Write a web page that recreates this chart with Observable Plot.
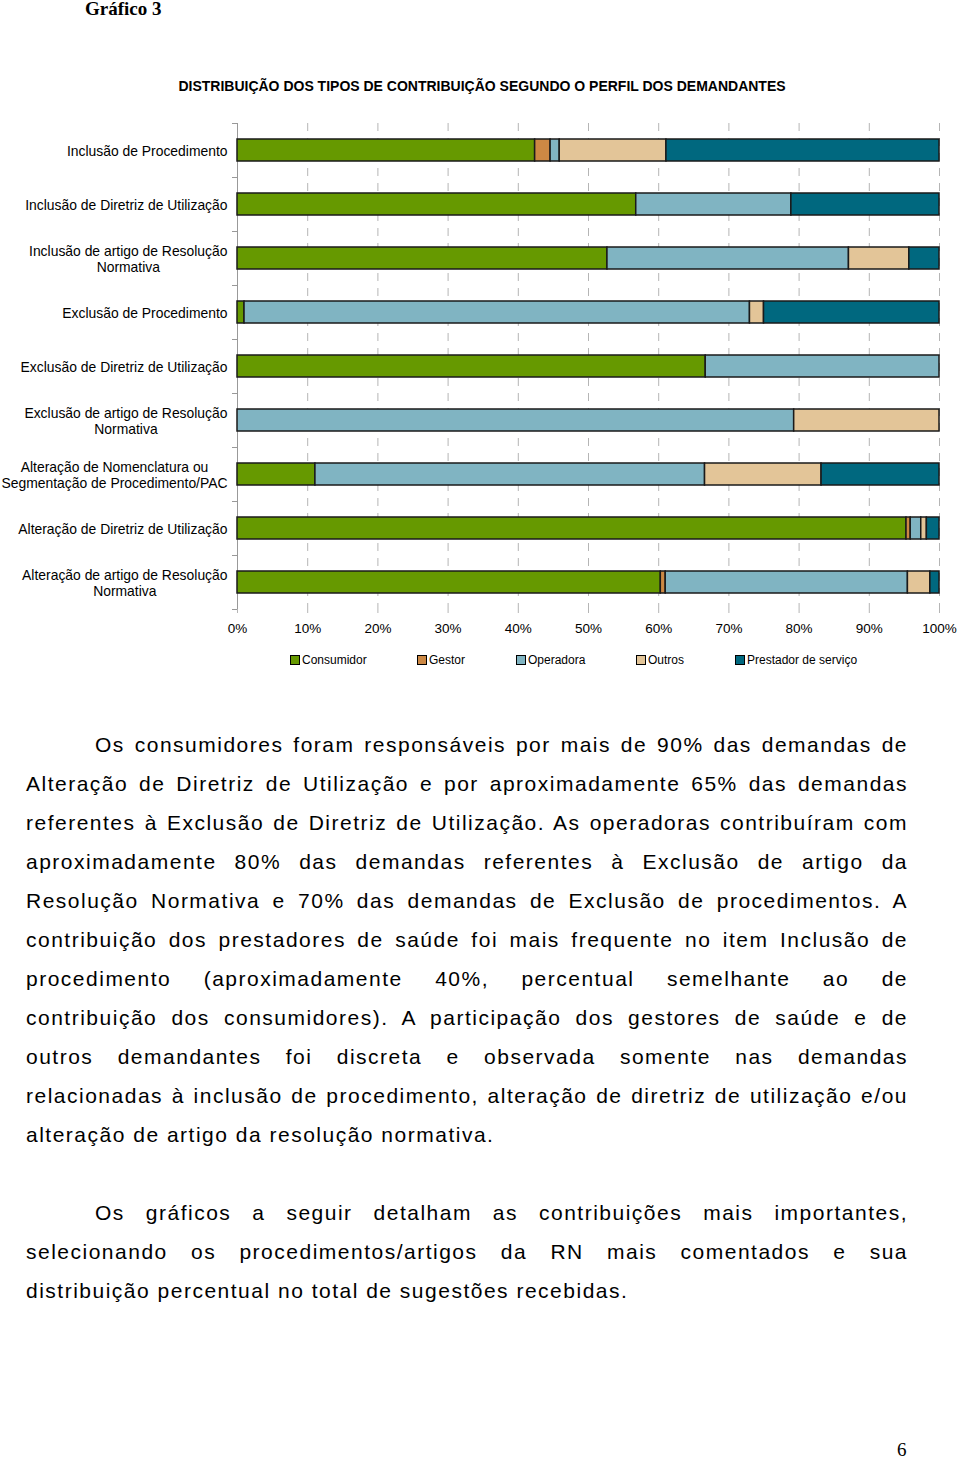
<!DOCTYPE html>
<html>
<head>
<meta charset="utf-8">
<script src="https://cdn.jsdelivr.net/npm/d3@7"></script>
<script src="https://cdn.jsdelivr.net/npm/@observablehq/plot@0.6"></script>
<style>
  body { margin:0; width:960px; height:1461px; position:relative; background:#fff; font-family:"Liberation Sans", Arial, sans-serif; color:#000; overflow:hidden; }
  .abs { position:absolute; }
  #pagetitle { left:85px; top:0px; line-height:17px; font-family:"Liberation Serif","Times New Roman",serif; font-weight:bold; font-size:19px; }
  #charttitle { left:0; width:964px; top:78px; text-align:center; font-weight:bold; font-size:14px; }
  #chart { left:0; top:100px; }
  .leg { position:absolute; top:653px; font-size:12px; line-height:14px; white-space:nowrap; }
  .leg span.sw { display:inline-block; width:8px; height:8px; border:1px solid #000; margin-right:2px; vertical-align:-1px; }
  .line { position:absolute; left:26px; width:882px; font-size:21px; letter-spacing:1.5px; text-align:justify; text-align-last:justify; white-space:nowrap; line-height:24px; }
  .line.last { text-align-last:left; text-align:left; }
  .line.indent { left:95px; width:813px; }
  #pagenum { left:897px; top:1439px; font-family:"Liberation Serif","Times New Roman",serif; font-size:19px; }
</style>
</head>
<body>
<div id="pagetitle" class="abs">Gráfico 3</div>
<div id="charttitle" class="abs">DISTRIBUIÇÃO DOS TIPOS DE CONTRIBUIÇÃO SEGUNDO O PERFIL DOS DEMANDANTES</div>
<div id="chart" class="abs"></div>
<div id="legend"></div>
<div id="text"></div>
<div id="pagenum" class="abs">6</div>
<script>
// ---- Data ----
const categories = [
  "Inclusão de Procedimento",
  "Inclusão de Diretriz de Utilização",
  "Inclusão de artigo de Resolução\nNormativa",
  "Exclusão de Procedimento",
  "Exclusão de Diretriz de Utilização",
  "Exclusão de artigo de Resolução\nNormativa",
  "Alteração de Nomenclatura ou\nSegmentação de Procedimento/PAC",
  "Alteração de Diretriz de Utilização",
  "Alteração de artigo de Resolução\nNormativa"
];
const seriesNames = ["Consumidor", "Gestor", "Operadora", "Outros", "Prestador de serviço"];
const consumidor = [42.4, 56.8, 52.7, 1.0, 66.7, 0, 11.1, 95.3, 60.3];
const gestor     = [2.2, 0, 0, 0, 0, 0, 0, 0.6, 0.7];
const operadora  = [1.3, 22.1, 34.4, 72.0, 33.3, 79.3, 55.5, 1.5, 34.5];
const outros     = [15.2, 0, 8.6, 2.0, 0, 20.7, 16.6, 0.8, 3.2];
const prestador  = [38.9, 21.1, 4.3, 25.0, 0, 0, 16.8, 1.8, 1.3];
const seriesColors = ["#669900", "#CC8844", "#80B4C2", "#E3C598", "#00687F"];
const xTicks = [0, 10, 20, 30, 40, 50, 60, 70, 80, 90, 100];

const seriesValues = [consumidor, gestor, operadora, outros, prestador];
const rows = [];
categories.forEach((c, i) => {
  seriesNames.forEach((s, j) => {
    const v = seriesValues[j][i];
    if (v > 0) rows.push({category: c, series: s, value: v});
  });
});

const labelFont = 13.9;
const cv = document.createElement("canvas").getContext("2d");
cv.font = labelFont + "px 'Liberation Sans'";
function labelWidth(t) { return Math.max(...t.split("\n").map(l => cv.measureText(l).width)); }

const labelMarks = categories.map(c =>
  Plot.text([c], {
    y: d => d, text: d => d, frameAnchor: "left", textAnchor: "middle",
    dx: -(10 + labelWidth(c) / 2), lineHeight: 1.2, fontSize: labelFont, fill: "#000"
  })
);

const chart = Plot.plot({
  width: 960,
  height: 550,
  marginLeft: 237,
  marginRight: 21,
  marginTop: 23,
  marginBottom: 41,
  style: {fontFamily: "'Liberation Sans', Arial, sans-serif", fontSize: "13.5px", color: "#000", background: "transparent"},
  x: {domain: [0, 100], label: null},
  y: {domain: categories, paddingInner: 0.59, paddingOuter: 0.295, label: null},
  color: {domain: seriesNames, range: seriesColors},
  marks: [
    Plot.ruleX(xTicks.slice(1), {stroke: "#b5b5b5", strokeWidth: 1, strokeDasharray: "8,7"}),
    Plot.axisX({ticks: xTicks, tickFormat: d => d + "%", tickSize: 4, tickPadding: 10, stroke: "#b5b5b5", fill: "#000", fontSize: 13.5, label: null}),
    Plot.axisY({ticks: categories, text: null, tickSize: 5, dy: -27, stroke: "#999", label: null}),
    Plot.axisY({ticks: [categories[categories.length - 1]], text: null, tickSize: 5, dy: 27, stroke: "#999", label: null}),
    Plot.ruleX([0], {stroke: "#999", strokeWidth: 1}),
    Plot.barX(rows, Plot.stackX({
      y: "category", x: "value", fill: "series", z: "series",
      order: seriesNames, stroke: "#1a1a1a", strokeWidth: 1.5
    })),
    ...labelMarks
  ]
});
document.getElementById("chart").appendChild(chart);

// legend
const legendX = [290, 417, 516, 636, 735];
const legend = document.getElementById("legend");
seriesNames.forEach((s, i) => {
  const d = document.createElement("div");
  d.className = "leg";
  d.style.left = legendX[i] + "px";
  d.innerHTML = `<span class="sw" style="background:${seriesColors[i]}"></span>${s}`;
  legend.appendChild(d);
});

// body text
const para1 = [
  "Os consumidores foram responsáveis por mais de 90% das demandas de",
  "Alteração de Diretriz de Utilização e por aproximadamente 65% das demandas",
  "referentes à Exclusão de Diretriz de Utilização. As operadoras contribuíram com",
  "aproximadamente 80% das demandas referentes à Exclusão de artigo da",
  "Resolução Normativa e 70% das demandas de Exclusão de procedimentos. A",
  "contribuição dos prestadores de saúde foi mais frequente no item Inclusão de",
  "procedimento (aproximadamente 40%, percentual semelhante ao de",
  "contribuição dos consumidores). A participação dos gestores de saúde e de",
  "outros demandantes foi discreta e observada somente nas demandas",
  "relacionadas à inclusão de procedimento, alteração de diretriz de utilização e/ou",
  "alteração de artigo da resolução normativa."
];
const para2 = [
  "Os gráficos a seguir detalham as contribuições mais importantes,",
  "selecionando os procedimentos/artigos da RN mais comentados e sua",
  "distribuição percentual no total de sugestões recebidas."
];
const textDiv = document.getElementById("text");
function addPara(lines, startY) {
  lines.forEach((t, i) => {
    const d = document.createElement("div");
    d.className = "line" + (i === 0 ? " indent" : "") + (i === lines.length - 1 ? " last" : "");
    d.style.top = (startY + i * 39 - 12) + "px";
    d.textContent = t;
    textDiv.appendChild(d);
  });
}
addPara(para1, 745);
addPara(para2, 1213);
</script>
</body>
</html>
